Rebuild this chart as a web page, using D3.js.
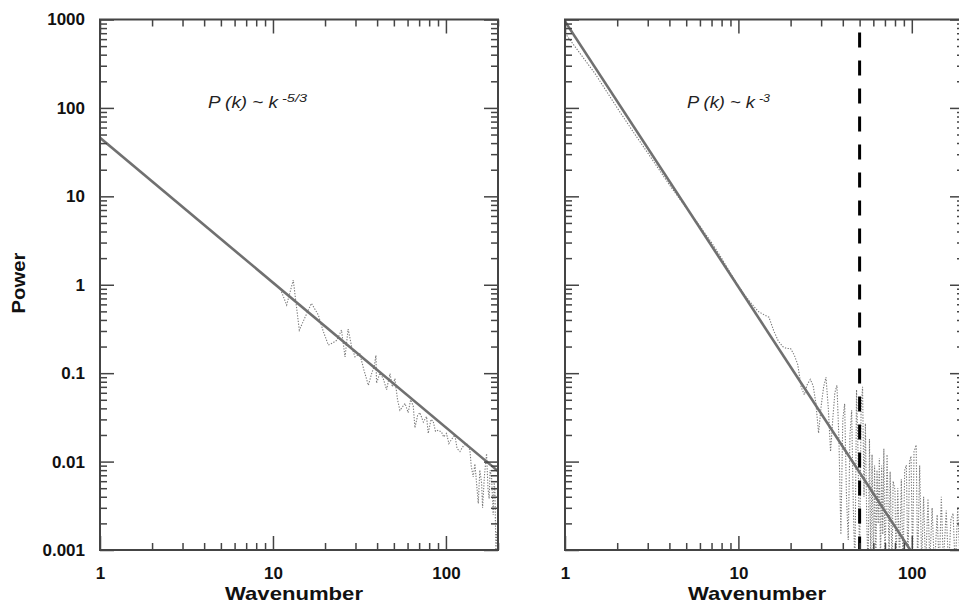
<!DOCTYPE html>
<html><head><meta charset="utf-8">
<script src="https://cdn.jsdelivr.net/npm/d3@7"></script>
<style>body{margin:0;background:#fff}svg{display:block}</style>
</head><body>
<svg id="c" width="959" height="604"></svg>
<script>
// ---------- data ----------
const yMajorTicks = [0.001, 0.01, 0.1, 1, 10, 100, 1000];
const yTickLabels = ["0.001", "0.01", "0.1", "1", "10", "100", "1000"];
const xMajorTicks = [1, 10, 100];
const xTickLabels = ["1", "10", "100"];

// left panel: observed spectrum (dotted) and -5/3 fit (solid)
const leftK = [11.2, 12.0, 13.1, 14.2, 15.5, 16.7, 18.3, 19.5, 20.9, 22.2, 23.4, 24.9, 26.1, 27.2, 28.5, 29.8, 31.8, 33.5, 35.6, 37.2, 38.5, 39.4, 39.7, 41.5, 43.4, 45.4, 47.5, 49, 50.7, 52.5, 54.2, 58.0, 60.5, 62.5, 64.7, 66.2, 68.5, 70.7, 74, 77.3, 79.0, 82, 84.4, 87, 90.2, 94.3, 97, 100.8, 104, 107.7, 112.6, 116, 120.5, 126, 131.6, 137.6, 140, 143.8, 147.1, 150, 153.8, 157, 160.8, 162.9, 167, 171.8, 175, 177.8, 180, 183.6, 187.6, 190, 191.9, 194.5, 197, 200];
const leftP = [0.834, 0.589, 1.13, 0.307, 0.45, 0.616, 0.454, 0.30, 0.208, 0.22, 0.236, 0.307, 0.153, 0.315, 0.20, 0.153, 0.165, 0.11, 0.073, 0.099, 0.12, 0.159, 0.077, 0.10, 0.087, 0.065, 0.099, 0.07, 0.087, 0.05, 0.038, 0.0455, 0.0358, 0.05, 0.0427, 0.0241, 0.033, 0.0358, 0.028, 0.0323, 0.0208, 0.03, 0.0285, 0.022, 0.0226, 0.0216, 0.019, 0.0208, 0.016, 0.0178, 0.020, 0.014, 0.0130, 0.015, 0.0160, 0.0135, 0.009, 0.00673, 0.0094, 0.006, 0.00336, 0.008, 0.0057, 0.0030, 0.007, 0.0123, 0.005, 0.0038, 0.008, 0.0067, 0.0025, 0.006, 0.0048, 0.001, 0.0016, 0.0009];
const leftFitK = [1, 200];
const leftFitP = [46, 0.0078];

// right panel: observed spectrum (dotted) and -3 fit (solid)
const rightK = [1, 1.5, 2, 2.5, 3, 4, 5, 6, 7, 8, 9, 10, 11, 12, 13, 14, 15, 16, 17, 18, 19, 20, 21, 22, 23, 24, 25, 26, 27, 28, 29, 30, 31, 32, 33, 34, 35, 36,
  37, 38, 39, 40, 41, 42, 43, 44, 45, 46, 47, 48, 49, 50, 51, 52, 53, 54, 55, 56, 57, 58, 59, 60, 61, 62, 63, 64, 65, 66, 67, 68, 69, 70,
  72, 74, 75, 77, 78, 80, 81, 83, 85, 87, 89, 91, 93, 95, 97, 99, 101, 103, 106, 108, 111, 114, 117, 120, 124, 127, 131, 135, 140, 144, 148, 152, 158, 163, 168, 173, 178, 184, 190, 196, 200];
const rightP = [700, 240, 100, 52, 31, 13.5, 7.4, 4.6, 3.0, 2.0, 1.35, 0.97, 0.74, 0.6, 0.5, 0.46, 0.43, 0.3, 0.23, 0.2, 0.19, 0.19, 0.16, 0.125, 0.07, 0.057, 0.075, 0.085, 0.072, 0.045, 0.021, 0.042, 0.07, 0.09, 0.04, 0.013, 0.03, 0.06,
  0.073, 0.018, 0.0015, 0.03, 0.045, 0.004, 0.0013, 0.02, 0.038, 0.003, 0.0006, 0.065, 0.012, 0.0006, 0.04, 0.07, 0.004, 0.027, 0.002, 0.0006, 0.018, 0.0007, 0.012, 0.0006, 0.009, 0.0006, 0.008, 0.002, 0.011, 0.0006, 0.009, 0.0015, 0.014, 0.0006,
  0.012, 0.0008, 0.0077, 0.0006, 0.006, 0.0048, 0.0006, 0.005, 0.0007, 0.0063, 0.0006, 0.008, 0.0091, 0.0006, 0.01, 0.0115, 0.0007, 0.013, 0.0154, 0.0006, 0.009, 0.0007, 0.004, 0.0006, 0.0038, 0.0007, 0.003, 0.0006, 0.0025, 0.0006, 0.004, 0.0007, 0.0028, 0.0006, 0.0022, 0.0026, 0.0006, 0.003, 0.0007, 0.0022, 0.0006];
const rightFitK = [1, 98];
const rightFitP = [950, 0.001];
const cutoffK = [50];

// ---------- drawing ----------
const svg = d3.select("#c");
const FONT = "'Liberation Sans', Arial, Helvetica, sans-serif";
const TOP = 19.5, BOTTOM = 550;
const y = d3.scaleLog().domain([0.001, 1000]).range([BOTTOM, TOP]);
const yMinor = y.ticks().filter(v => !yMajorTicks.some(m => Math.abs(m - v) / m < 1e-6));

function styleAxis(g) {
  g.select(".domain").remove();
  g.selectAll(".tick line").attr("stroke", "#444").attr("stroke-width", 1.5);
  g.selectAll(".tick text").attr("fill", "#111").style("font-family", FONT)
    .style("font-weight", "bold").style("font-size", "17px");
}

function panel(id, x, dataK, dataP, fitK, fitP, showY, vlines) {
  const [x0, x1] = x.range();
  const g = svg.append("g");
  const xMinor = x.ticks().filter(v => !xMajorTicks.includes(v));

  svg.append("clipPath").attr("id", "clip" + id).append("rect")
    .attr("x", x0).attr("y", TOP).attr("width", x1 - x0).attr("height", BOTTOM - TOP);

  const line = d3.line().x(d => x(d[0])).y(d => y(d[1]));
  const plot = g.append("g").attr("clip-path", `url(#clip${id})`);
  plot.append("path").datum(d3.zip(dataK, dataP)).attr("d", line)
    .attr("fill", "none").attr("stroke", "#7a7a7a").attr("stroke-width", 1.1)
    .attr("stroke-dasharray", "1.3,1.5");
  plot.append("path").datum(d3.zip(fitK, fitP)).attr("d", line)
    .attr("fill", "none").attr("stroke", "#707070").attr("stroke-width", 2.6);
  (vlines || []).forEach(k => {
    plot.append("line").attr("x1", x(k)).attr("x2", x(k)).attr("y1", TOP).attr("y2", BOTTOM)
      .attr("stroke", "#000").attr("stroke-width", 3)
      .attr("stroke-dasharray", "15,13").attr("stroke-dashoffset", 15);
  });

  // bottom
  g.append("g").attr("transform", `translate(0,${BOTTOM})`)
    .call(d3.axisBottom(x).tickValues(xMajorTicks).tickSize(-14).tickPadding(17)
      .tickFormat((d, i) => xTickLabels[i])).call(styleAxis);
  g.append("g").attr("transform", `translate(0,${BOTTOM})`)
    .call(d3.axisBottom(x).tickValues(xMinor).tickSize(-7).tickFormat("")).call(styleAxis);
  // top
  g.append("g").attr("transform", `translate(0,${TOP})`)
    .call(d3.axisTop(x).tickValues(xMajorTicks).tickSize(-14).tickFormat("")).call(styleAxis);
  g.append("g").attr("transform", `translate(0,${TOP})`)
    .call(d3.axisTop(x).tickValues(xMinor).tickSize(-7).tickFormat("")).call(styleAxis);
  // left
  g.append("g").attr("transform", `translate(${x0},0)`)
    .call(d3.axisLeft(y).tickValues(yMajorTicks).tickSize(-14).tickPadding(15)
      .tickFormat((d, i) => showY ? yTickLabels[i] : "")).call(styleAxis);
  g.append("g").attr("transform", `translate(${x0},0)`)
    .call(d3.axisLeft(y).tickValues(yMinor).tickSize(-7).tickFormat("")).call(styleAxis);
  // right
  g.append("g").attr("transform", `translate(${x1},0)`)
    .call(d3.axisRight(y).tickValues(yMajorTicks).tickSize(-14).tickFormat("")).call(styleAxis);
  g.append("g").attr("transform", `translate(${x1},0)`)
    .call(d3.axisRight(y).tickValues(yMinor).tickSize(-7).tickFormat("")).call(styleAxis);

  g.append("rect").attr("x", x0).attr("y", TOP).attr("width", x1 - x0).attr("height", BOTTOM - TOP)
    .attr("fill", "none").attr("stroke", "#444").attr("stroke-width", 2);
  return g;
}

const xL = d3.scaleLog().domain([1, 200]).range([100, 498]);
const xR = d3.scaleLog().domain([1, 200]).range([565, 964]);
panel("L", xL, leftK, leftP, leftFitK, leftFitP, true, []);
panel("R", xR, rightK, rightP, rightFitK, rightFitP, false, cutoffK);

// axis titles
[294, 757].forEach(cx => {
  svg.append("text").attr("x", cx).attr("y", 600).attr("text-anchor", "middle")
    .attr("textLength", 138).attr("lengthAdjust", "spacingAndGlyphs")
    .style("font-family", FONT).style("font-weight", "bold").style("font-size", "19px").attr("fill", "#111")
    .text("Wavenumber");
});
svg.append("text").attr("transform", "translate(25,283) rotate(-90)").attr("text-anchor", "middle")
  .attr("textLength", 61).attr("lengthAdjust", "spacingAndGlyphs")
  .style("font-family", FONT).style("font-weight", "bold").style("font-size", "18px").attr("fill", "#111")
  .text("Power");

// annotations
function annot(xPos, main, mainLen, sup, supLen) {
  svg.append("text").attr("x", xPos).attr("y", 108)
    .attr("textLength", mainLen).attr("lengthAdjust", "spacingAndGlyphs")
    .style("font-family", FONT).style("font-style", "italic").style("font-size", "16px").attr("fill", "#222")
    .text(main);
  svg.append("text").attr("x", xPos + mainLen + 4).attr("y", 101.5)
    .attr("textLength", supLen).attr("lengthAdjust", "spacingAndGlyphs")
    .style("font-family", FONT).style("font-style", "italic").style("font-size", "11.5px").attr("fill", "#222")
    .text(sup);
}
annot(208, "P (k) ~ k", 70, "-5/3", 25);
annot(687, "P (k) ~ k", 68, "-3", 11);
</script>
</body></html>
